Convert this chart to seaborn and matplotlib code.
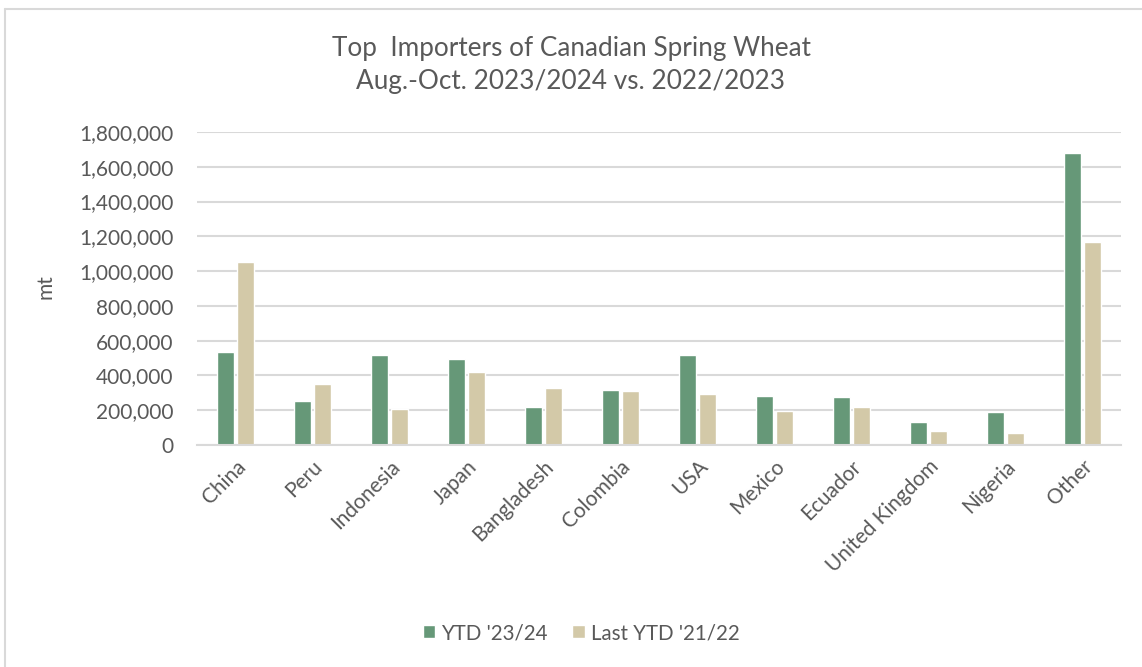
import pandas as pd
import matplotlib
matplotlib.use("Agg")
import matplotlib.pyplot as plt
import seaborn as sns
from matplotlib.lines import Line2D
from matplotlib.ticker import FuncFormatter

# data (tonnes)
countries = ["China", "Peru", "Indonesia", "Japan", "Bangladesh", "Colombia",
             "USA", "Mexico", "Ecuador", "United Kingdom", "Nigeria", "Other"]
ytd_23_24 = [535000, 251000, 516000, 492000, 220000, 318000,
             519000, 282000, 278000, 130000, 191000, 1680000]
last_ytd_21_22 = [1055000, 351000, 205000, 421000, 330000, 308000,
                  293000, 197000, 220000, 78000, 72000, 1167000]
series_names = ["YTD '23/24", "Last YTD '21/22"]

df = pd.DataFrame({
    "Country": countries * 2,
    "Series": [series_names[0]] * len(countries) + [series_names[1]] * len(countries),
    "mt": ytd_23_24 + last_ytd_21_22,
})

sns.set_theme(style="white")
plt.rcParams['font.family'] = ['Lato', 'DejaVu Sans']
text_col = "#595959"
grid_col = "#D9D9D9"

fig = plt.figure(figsize=(11.42, 6.67), dpi=100)
ax = fig.add_axes([0.1725, 0.3328, 0.809, 0.4693])

sns.barplot(data=df, x="Country", y="mt", hue="Series", hue_order=series_names,
            palette=["#669878", "#D3C9A8"], width=0.51, gap=0.14,
            saturation=1, ax=ax, legend=True)

ax.set_xlim(-0.5, len(countries) - 0.5)
ax.set_ylim(0, 1800000)
ax.set_yticks(range(0, 1800001, 200000))
ax.yaxis.set_major_formatter(FuncFormatter(lambda v, p: f"{int(v):,}"))
ax.grid(axis="y", color=grid_col, linewidth=1.5)
ax.set_axisbelow(True)
for s in ["top", "right", "left"]:
    ax.spines[s].set_visible(False)
ax.spines["bottom"].set_color(grid_col)
ax.spines["bottom"].set_linewidth(1.5)
ax.tick_params(axis="both", length=0, colors=text_col, labelsize=15)
ax.tick_params(axis="y", pad=17)
ax.tick_params(axis="x", pad=8)
plt.setp(ax.get_xticklabels(), rotation=45, ha="right", rotation_mode="anchor")
ax.set_xlabel("")
ax.set_ylabel("mt", color=text_col, fontsize=15)
ax.yaxis.set_label_coords((55 - 197) / 924, (445 - 287) / 313)

fig.text(0.5, 1 - 65 / 667,
         "Top  Importers of Canadian Spring Wheat\nAug.-Oct. 2023/2024 vs. 2022/2023",
         ha="center", va="center", color=text_col, fontsize=18.8, linespacing=1.4)

handles, labels = ax.get_legend_handles_labels()
ax.get_legend().remove()
fig.legend(handles, labels, loc="center", bbox_to_anchor=(0.509, 1 - 633 / 667), ncol=2,
           frameon=False, fontsize=14.8, labelcolor=text_col,
           handlelength=0.6, handleheight=0.6, handletextpad=0.3, columnspacing=1.2)

# chart frame (only left and top edges are visible in the reference crop)
fig.add_artist(Line2D([5 / 1142, 5 / 1142], [0, 1 - 9 / 667], transform=fig.transFigure,
                      color=grid_col, linewidth=1.5))
fig.add_artist(Line2D([5 / 1142, 1], [1 - 9 / 667, 1 - 9 / 667], transform=fig.transFigure,
                      color=grid_col, linewidth=1.5))

fig.savefig("out.png", dpi=100)
